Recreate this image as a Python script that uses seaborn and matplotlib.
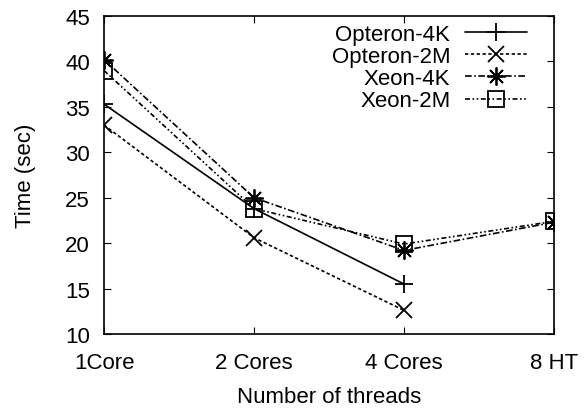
import numpy as np
import pandas as pd
import matplotlib
matplotlib.use("Agg")
import matplotlib.pyplot as plt
import seaborn as sns

categories = ["1Core", "2 Cores", "4 Cores", "8 HT"]
opteron_4k = [35.3, 23.8, 15.5, np.nan]
opteron_2m = [33.0, 20.6, 12.6, np.nan]
xeon_4k = [40.2, 25.0, 19.2, 22.3]
xeon_2m = [39.0, 23.8, 19.9, 22.4]
series_names = ["Opteron-4K", "Opteron-2M", "Xeon-4K", "Xeon-2M"]
y_ticks = [10, 15, 20, 25, 30, 35, 40, 45]

sns.set_style("ticks")
plt.rcParams['font.family'] = ['Liberation Sans', 'DejaVu Sans']
plt.rcParams['text.color'] = 'black'
plt.rcParams['axes.labelcolor'] = 'black'

FS = 16

fig = plt.figure(figsize=(5.84, 4.10), dpi=100)
ax = fig.add_axes([104/584, 1 - 335/410, (554-104)/584, (335-17)/410])

x = np.arange(len(categories))
styles = [
    dict(marker='+', dashes=None, ms=12.5),
    dict(marker='x', dashes=(2, 1.5), ms=11),
    dict(marker=(8, 2, 0), dashes=(4, 1.5, 1, 1.5), ms=13),
    dict(marker='s', dashes=(3, 1.5, 1, 1.5, 1, 1.5), ms=11),
]
data = [opteron_4k, opteron_2m, xeon_4k, xeon_2m]
for name, vals, st in zip(series_names, data, styles):
    df = pd.DataFrame({"x": x, "y": vals}).dropna()
    sns.lineplot(data=df, x="x", y="y", ax=ax, color='black', lw=1.2,
                 marker=st['marker'], markersize=st['ms'],
                 markerfacecolor='none', markeredgecolor='black',
                 markeredgewidth=1.3, label=name)
    l = ax.lines[-1]
    if st['dashes'] is not None:
        l.set_dashes(st['dashes'])

ax.set_xlim(0, 3)
ax.set_ylim(10, 45)
ax.set_xticks(x)
ax.set_xticklabels(categories)
ax.set_yticks(y_ticks)
ax.tick_params(direction='in', length=5, width=0.8, top=True, right=True,
               labelsize=FS, colors='black')
ax.tick_params(axis='x', pad=13)
ax.tick_params(axis='y', pad=10)
for s in ax.spines.values():
    s.set_linewidth(1.2)
    s.set_color('black')
ax.set_xlabel("Number of threads", fontsize=FS, labelpad=9)
ax.set_ylabel("Time (sec)", fontsize=FS, labelpad=21)

leg = ax.legend(loc='upper right', bbox_to_anchor=(0.94, 0.975), frameon=False,
                markerfirst=False, fontsize=FS, handlelength=2.8,
                labelspacing=0.05, borderaxespad=0, borderpad=0,
                handletextpad=0.65)

fig.savefig("out.png", dpi=100)
